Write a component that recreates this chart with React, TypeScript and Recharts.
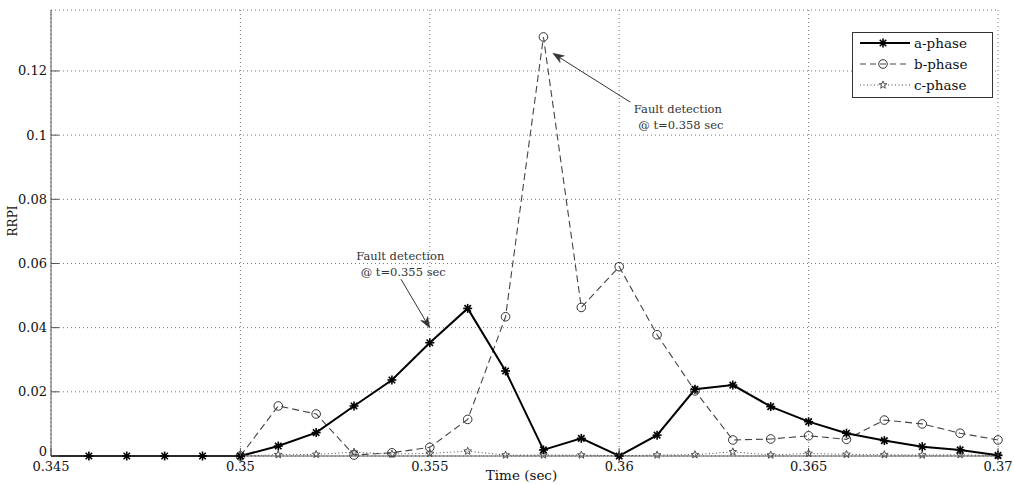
import React from "react";
import {
  LineChart,
  Line,
  XAxis,
  YAxis,
  CartesianGrid,
  Legend,
  ReferenceLine,
  ReferenceDot,
} from "recharts";

// time axis (sec)
const time = [
  0.345, 0.346, 0.347, 0.348, 0.349, 0.35, 0.351, 0.352, 0.353, 0.354, 0.355,
  0.356, 0.357, 0.358, 0.359, 0.36, 0.361, 0.362, 0.363, 0.364, 0.365, 0.366,
  0.367, 0.368, 0.369, 0.37,
];

// RRPI per phase
const aPhase = [
  0, 0, 0, 0, 0, 0, 0.0031, 0.0073, 0.0156, 0.0237, 0.0353, 0.046, 0.0265,
  0.0019, 0.0055, 0, 0.0065, 0.0208, 0.0221, 0.0154, 0.0107, 0.0071, 0.0048,
  0.0029, 0.0019, 0.0002,
];
const bPhase = [
  null, null, null, null, null, 0, 0.0156, 0.0131, 0.0003, 0.001, 0.0027,
  0.0114, 0.0434, 0.1306, 0.0463, 0.059, 0.0378, 0.0203, 0.005, 0.0053, 0.0063,
  0.0052, 0.0112, 0.01, 0.0071, 0.005,
];
const cPhase = [
  null, null, null, null, null, 0, 0.0004, 0.0005, 0.0012, 0.0006, 0.0008,
  0.0015, 0.0003, 0.0003, 0.0003, 0.0001, 0.0003, 0.0004, 0.0013, 0.0003,
  0.0008, 0.0005, 0.0004, 0.0003, 0.0004, 0.0001,
];

const xTicks = [0.345, 0.35, 0.355, 0.36, 0.365, 0.37];
const yTicks = [0, 0.02, 0.04, 0.06, 0.08, 0.1, 0.12];

// annotation arrows (tail -> head) and their text, in data units
const arrows = [
  { from: { x: 0.35424, y: 0.0551 }, to: { x: 0.355, y: 0.0399 } },
  { from: { x: 0.36029, y: 0.1103 }, to: { x: 0.35825, y: 0.1255 } },
];
const notes = [
  { x: 0.35422, y: 0.0601, lines: ["Fault detection", "@ t=0.355 sec"] },
  { x: 0.36155, y: 0.1059, lines: ["Fault detection", "@ t=0.358 sec"] },
];

const data = time.map((t, i) => ({
  time: t,
  a: aPhase[i],
  b: bPhase[i],
  c: cPhase[i],
}));

const FONT = "'DejaVu Serif', 'Liberation Serif', serif";
const AXIS = "#555";
const fmt = (v: number) => String(Number(v.toFixed(4)));

function XTickBottom({ x, y, payload }: any) {
  return (
    <g>
      <line x1={x} y1={y} x2={x} y2={y - 8} stroke={AXIS} />
      <text x={x} y={y + 15} textAnchor="middle" fontFamily={FONT} fontSize={13} fill="#111">
        {fmt(payload.value)}
      </text>
    </g>
  );
}
function XTickTop({ x, y }: any) {
  return <line x1={x} y1={y} x2={x} y2={y + 8} stroke={AXIS} />;
}
function YTickLeft({ x, y, payload }: any) {
  // the zero label sits a little higher so it clears the first x label
  const shift = payload.value === 0 ? -5 : 0;
  return (
    <g>
      <line x1={x} y1={y} x2={x + 8} y2={y} stroke={AXIS} />
      <text x={x - 4} y={y + 4.5 + shift} textAnchor="end" fontFamily={FONT} fontSize={13} fill="#111">
        {fmt(payload.value)}
      </text>
    </g>
  );
}
function YTickRight({ x, y }: any) {
  return <line x1={x} y1={y} x2={x - 8} y2={y} stroke={AXIS} />;
}

// markers
function asterisk(cx: number, cy: number, key?: any) {
  const r = 4.5;
  const d = r * 0.72;
  return (
    <g key={key} stroke="#000" strokeWidth={1.6}>
      <line x1={cx - r} y1={cy} x2={cx + r} y2={cy} />
      <line x1={cx} y1={cy - r} x2={cx} y2={cy + r} />
      <line x1={cx - d} y1={cy - d} x2={cx + d} y2={cy + d} />
      <line x1={cx - d} y1={cy + d} x2={cx + d} y2={cy - d} />
      <circle cx={cx} cy={cy} r={2} fill="#000" stroke="none" />
    </g>
  );
}
function circleMark(cx: number, cy: number, key?: any) {
  return <circle key={key} cx={cx} cy={cy} r={4.3} fill="none" stroke="#333" strokeWidth={1} />;
}
function starMark(cx: number, cy: number, key?: any) {
  const pts: string[] = [];
  for (let k = 0; k < 10; k++) {
    const ang = -Math.PI / 2 + (k * Math.PI) / 5;
    const rr = k % 2 === 0 ? 4 : 1.7;
    pts.push(`${cx + rr * Math.cos(ang)},${cy + rr * Math.sin(ang)}`);
  }
  return <polygon key={key} points={pts.join(" ")} fill="none" stroke="#444" strokeWidth={0.9} />;
}

const dotA = (p: any) =>
  p.cx == null || p.cy == null || p.index === 0 ? <g key={p.index} /> : asterisk(p.cx, p.cy, p.index);
const dotB = (p: any) =>
  p.cx == null || p.cy == null || p.value == null ? <g key={p.index} /> : circleMark(p.cx, p.cy, p.index);
const dotC = (p: any) =>
  p.cx == null || p.cy == null || p.value == null ? <g key={p.index} /> : starMark(p.cx, p.cy, p.index);

function Arrow({ x1, y1, x2, y2 }: any) {
  const ang = Math.atan2(y2 - y1, x2 - x1);
  const L = 11;
  const W = 4;
  const bx = x2 - L * Math.cos(ang);
  const by = y2 - L * Math.sin(ang);
  const nx = x2 - L * 0.7 * Math.cos(ang);
  const ny = y2 - L * 0.7 * Math.sin(ang);
  const px = -Math.sin(ang) * W;
  const py = Math.cos(ang) * W;
  return (
    <g>
      <line x1={x1} y1={y1} x2={nx} y2={ny} stroke="#333" strokeWidth={1} />
      <polygon
        points={`${x2},${y2} ${bx + px},${by + py} ${nx},${ny} ${bx - px},${by - py}`}
        fill="#333"
        stroke="#333"
        strokeWidth={0.6}
      />
    </g>
  );
}

function Note({ cx, cy, lines }: any) {
  return (
    <text x={cx} y={cy} textAnchor="middle" fontFamily={FONT} fontSize={11.5} fill="#333">
      <tspan x={cx} dy={-3}>{lines[0]}</tspan>
      <tspan x={cx + 3} dy={16}>{lines[1]}</tspan>
    </text>
  );
}

const legendRows = [
  { name: "a-phase", dash: undefined, width: 2, mark: asterisk },
  { name: "b-phase", dash: "6 4", width: 1.1, mark: circleMark },
  { name: "c-phase", dash: "1 2.5", width: 1, mark: starMark },
];

function LegendBox() {
  return (
    <svg width={141} height={66}>
      <rect x={0.5} y={0.5} width={140} height={65} fill="#fff" stroke="#333" />
      {legendRows.map((r, i) => {
        const y = 11 + i * 21;
        return (
          <g key={r.name}>
            <line x1={8} y1={y} x2={58} y2={y} stroke={i === 0 ? "#000" : "#444"} strokeWidth={r.width} strokeDasharray={r.dash} />
            {r.mark(31, y)}
            <text x={62} y={y + 4.5} fontFamily={FONT} fontSize={13.5} fill="#111">
              {r.name}
            </text>
          </g>
        );
      })}
    </svg>
  );
}

export default function App() {
  return (
    <div style={{ position: "absolute", left: 0, top: 0, width: 1014, height: 485, background: "#fff" }}>
      <LineChart width={1014} height={485} data={data} margin={{ top: 10, right: 16, left: 0, bottom: 0 }}>
        <CartesianGrid stroke="#777" strokeDasharray="1 3" />
        <XAxis
          dataKey="time"
          type="number"
          domain={[0.345, 0.37]}
          ticks={xTicks}
          height={29}
          tickSize={0}
          tickMargin={0}
          tickLine={false}
          axisLine={{ stroke: AXIS }}
          tick={<XTickBottom />}
          label={({ viewBox }: any) => (
            <text
              x={viewBox.x + viewBox.width / 2 - 3}
              y={viewBox.y + 24}
              textAnchor="middle"
              fontFamily={FONT}
              fontSize={13.5}
              fill="#111"
            >
              Time (sec)
            </text>
          )}
        />
        <XAxis
          xAxisId="top"
          orientation="top"
          dataKey="time"
          type="number"
          domain={[0.345, 0.37]}
          ticks={xTicks}
          height={0}
          tickSize={0}
          tickMargin={0}
          tickLine={false}
          axisLine={{ stroke: AXIS }}
          tick={<XTickTop />}
        />
        <YAxis
          type="number"
          domain={[0, 0.139]}
          ticks={yTicks}
          width={51}
          tickSize={0}
          tickMargin={0}
          tickLine={false}
          axisLine={{ stroke: AXIS }}
          tick={<YTickLeft />}
          label={({ viewBox }: any) => {
            const x = viewBox.x + 13;
            const y = viewBox.y + viewBox.height / 2 - 12;
            return (
              <text
                x={x}
                y={y}
                transform={`rotate(-90 ${x} ${y})`}
                textAnchor="middle"
                dominantBaseline="central"
                fontFamily={FONT}
                fontSize={12}
                fill="#111"
              >
                RRPI
              </text>
            );
          }}
        />
        <YAxis
          yAxisId="right"
          orientation="right"
          type="number"
          domain={[0, 0.139]}
          ticks={yTicks}
          width={0}
          tickSize={0}
          tickMargin={0}
          tickLine={false}
          axisLine={{ stroke: AXIS }}
          tick={<YTickRight />}
        />
        <Legend
          layout="vertical"
          align="center"
          verticalAlign="middle"
          wrapperStyle={{ position: "absolute", left: 852, top: 32, width: 141, height: 66 }}
          content={() => <LegendBox />}
        />
        <Line
          dataKey="c"
          stroke="#444"
          strokeWidth={1}
          strokeDasharray="1 2.5"
          dot={dotC}
          activeDot={false}
          connectNulls={false}
          isAnimationActive={false}
        />
        <Line
          dataKey="b"
          stroke="#444"
          strokeWidth={1.1}
          strokeDasharray="7 4"
          dot={dotB}
          activeDot={false}
          isAnimationActive={false}
        />
        <Line
          dataKey="a"
          stroke="#000"
          strokeWidth={2}
          dot={dotA}
          activeDot={false}
          isAnimationActive={false}
        />
        {arrows.map((a, i) => (
          <ReferenceLine key={`arrow-${i}`} segment={[a.from, a.to]} shape={(p: any) => <Arrow {...p} />} />
        ))}
        {notes.map((n, i) => (
          <ReferenceDot
            key={`note-${i}`}
            x={n.x}
            y={n.y}
            r={0}
            shape={(p: any) => <Note cx={p.cx} cy={p.cy} lines={n.lines} />}
          />
        ))}
      </LineChart>
    </div>
  );
}
